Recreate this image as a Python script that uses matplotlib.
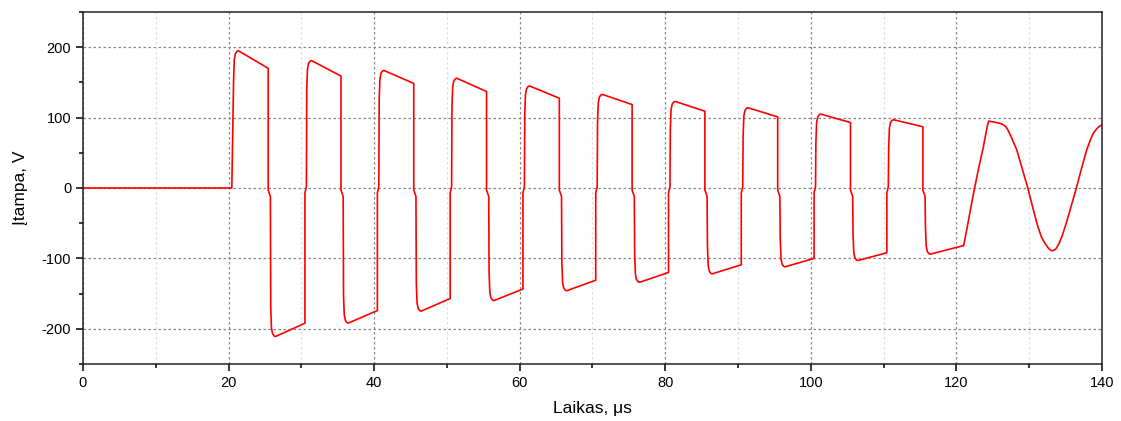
import matplotlib
matplotlib.use("Agg")
import matplotlib.pyplot as plt
from matplotlib.ticker import MultipleLocator

plt.rcParams['font.family'] = ['Liberation Sans', 'DejaVu Sans']
plt.rcParams['axes.unicode_minus'] = False

# ---- data ----
# square-pulse section: one entry per cycle
rise_t = [20.45, 30.5, 40.45, 50.45, 60.45, 70.45, 80.45, 90.45, 100.45, 110.45]
fall_t = [25.45, 35.45, 45.45, 55.45, 65.45, 75.45, 85.45, 95.45, 105.45, 115.4]
peak_v = [195, 181, 167, 156, 145, 133, 123, 114, 105, 97]
top_end_v = [170, 159, 148.5, 137, 127.5, 118.5, 109, 101, 93, 87]
trough_v = [-211, -192, -175, -160, -146, -134, -122, -112, -103, -94]
trough_end_v = [-192, -174, -157, -143.5, -131, -120, -109, -100, -92, -82]
last_trough_end_t = 120.9

# free oscillation tail
tail_t = [121.0, 121.5, 122.0, 122.5, 123.1, 123.7, 124.1, 124.3, 124.45, 125.5, 126.1, 126.4,
          126.8, 127.1, 127.6, 128.3, 129.0, 129.8, 130.5, 131.2, 131.7, 132.2, 132.6, 132.9,
          133.1, 133.4, 133.7, 134.0, 134.5, 135.1, 135.8, 136.5, 137.2, 137.9, 138.4,
          138.8, 139.2, 139.5, 139.8, 140.0]
tail_v = [-82, -55, -27, 0, 30, 58, 80, 90, 95, 93, 91.5, 90,
          87, 82, 71, 54, 29, 0.5, -28, -55, -70, -79, -85, -88,
          -89, -88.5, -86, -81, -69, -50, -25, 0.5, 28, 54, 68,
          77.6, 83, 86.5, 88.5, 89]

# initial zero baseline
start_t = [0.0]
start_v = [0.0]

# ---- assemble waveform vertices (edge shapes of the switching transitions) ----
t = list(start_t)
v = list(start_v)
n = len(rise_t)
for i in range(n):
    r, f = rise_t[i], fall_t[i]
    pk, pe, tr, te = peak_v[i], top_end_v[i], trough_v[i], trough_end_v[i]
    if i == 0:
        t += [r]
        v += [0.0]
    else:
        t += [r, r + 0.2]
        v += [-7.0, 2.0]
    t += [r + 0.25, r + 0.35, r + 0.5, r + 0.7, r + 0.9]
    v += [pk - 40, pk - 12, pk - 4, pk - 1, pk]
    t += [f, f, f + 0.3]
    v += [pe, -3.0, -12.0]
    t += [f + 0.35, f + 0.45, f + 0.6, f + 0.8, f + 1.0]
    v += [tr + 40, tr + 12, tr + 4, tr + 1, tr]
    nxt = rise_t[i + 1] if i + 1 < n else last_trough_end_t
    t += [nxt]
    v += [te]
t += tail_t
v += tail_v

fig = plt.figure(figsize=(11.21, 4.21), dpi=100)
ax = fig.add_axes([0.074, 0.1354, 0.909, 0.8361])
ax.plot(t, v, color='#ff0000', lw=1.2, solid_joinstyle='round')

ax.set_xlim(0, 140)
ax.set_ylim(-250, 250)
ax.xaxis.set_major_locator(MultipleLocator(20))
ax.xaxis.set_minor_locator(MultipleLocator(10))
ax.yaxis.set_major_locator(MultipleLocator(100))
ax.yaxis.set_minor_locator(MultipleLocator(50))

ax.grid(which='major', axis='both', color='#888888', linestyle=(0, (2, 2)), lw=0.9)
ax.grid(which='minor', axis='x', color='#dddddd', linestyle=(0, (2, 2)), lw=0.9)
ax.set_axisbelow(True)

ax.tick_params(which='major', direction='out', length=5, width=1.1, labelsize=10.5,
               top=False, right=False)
ax.tick_params(which='minor', direction='out', length=3, width=1.1, top=False, right=False)
for s in ax.spines.values():
    s.set_linewidth(1.1)
    s.set_color('#222222')

ax.set_xlabel('Laikas, μs', fontsize=12.5, labelpad=8)
ax.set_ylabel('Įtampa, V', fontsize=12.5, labelpad=10)

fig.savefig('out.png', dpi=100)
